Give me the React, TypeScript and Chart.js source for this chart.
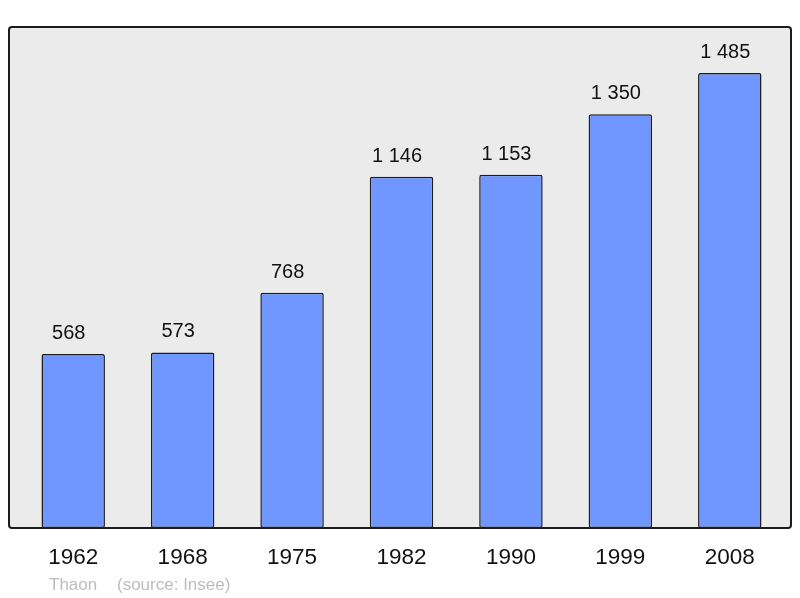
import React, { useEffect, useRef } from "react";
import { Chart, registerables } from "chart.js";

Chart.register(...registerables);

const years = ["1962", "1968", "1975", "1982", "1990", "1999", "2008"];
const population = [568, 573, 768, 1146, 1153, 1350, 1485];
const valueLabels = ["568", "573", "768", "1 146", "1 153", "1 350", "1 485"];
const placeName = "Thaon";
const sourceText = "(source: Insee)";

const FONT = "'Liberation Sans', Arial, sans-serif";

const boxPlugin = {
  id: "boxPlugin",
  beforeDatasetsDraw(chart: any) {
    const ctx = chart.ctx;
    ctx.save();
    ctx.beginPath();
    ctx.roundRect(9, 27, 782, 501, 3);
    ctx.fillStyle = "#ebebeb";
    ctx.fill();
    ctx.restore();
  },
  afterDatasetsDraw(chart: any) {
    const ctx = chart.ctx;
    const xs = chart.scales.x;
    const ys = chart.scales.y;
    ctx.save();
    ctx.beginPath();
    ctx.roundRect(9, 27, 782, 501, 3);
    ctx.lineWidth = 2;
    ctx.strokeStyle = "#1c1c1c";
    ctx.stroke();

    // value labels
    ctx.fillStyle = "#111";
    ctx.font = `20px ${FONT}`;
    ctx.textAlign = "center";
    ctx.textBaseline = "alphabetic";
    population.forEach((v, i) => {
      const x = xs.getPixelForValue(i);
      const y = ys.getPixelForValue(v);
      ctx.fillText(valueLabels[i], x - 4.5, y - 15);
    });

    // category labels
    ctx.font = `22.5px ${FONT}`;
    years.forEach((yr, i) => {
      const x = xs.getPixelForValue(i);
      ctx.fillText(yr, x, 564);
    });

    // footer
    ctx.fillStyle = "#bdbdbd";
    ctx.font = `17px ${FONT}`;
    ctx.textAlign = "left";
    ctx.fillText(placeName, 49, 590);
    ctx.fillText(sourceText, 117, 590);
    ctx.restore();
  },
};

export default function App() {
  const ref = useRef<HTMLCanvasElement>(null);
  useEffect(() => {
    document.body.style.margin = "0";
    const chart = new Chart(ref.current!, {
      type: "bar",
      data: {
        labels: years,
        datasets: [
          {
            data: population,
            backgroundColor: "#7096ff",
            borderColor: "#1c1c1c",
            borderWidth: 1.5,
            borderRadius: 2,
            borderSkipped: false,
            barPercentage: 0.58,
            categoryPercentage: 1,
          },
        ],
      },
      options: {
        responsive: false,
        animation: false,
        devicePixelRatio: 1,
        layout: { padding: { left: 18.5, right: 15.5, top: 27, bottom: 70 } },
        plugins: { legend: { display: false }, tooltip: { enabled: false }, title: { display: false } },
        scales: {
          x: { display: false },
          y: { display: false, min: 0, max: 1635 },
        },
      },
      plugins: [boxPlugin],
    });
    return () => chart.destroy();
  }, []);
  return (
    <div style={{ width: 800, height: 598 }}>
      <canvas ref={ref} width={800} height={598} />
    </div>
  );
}
